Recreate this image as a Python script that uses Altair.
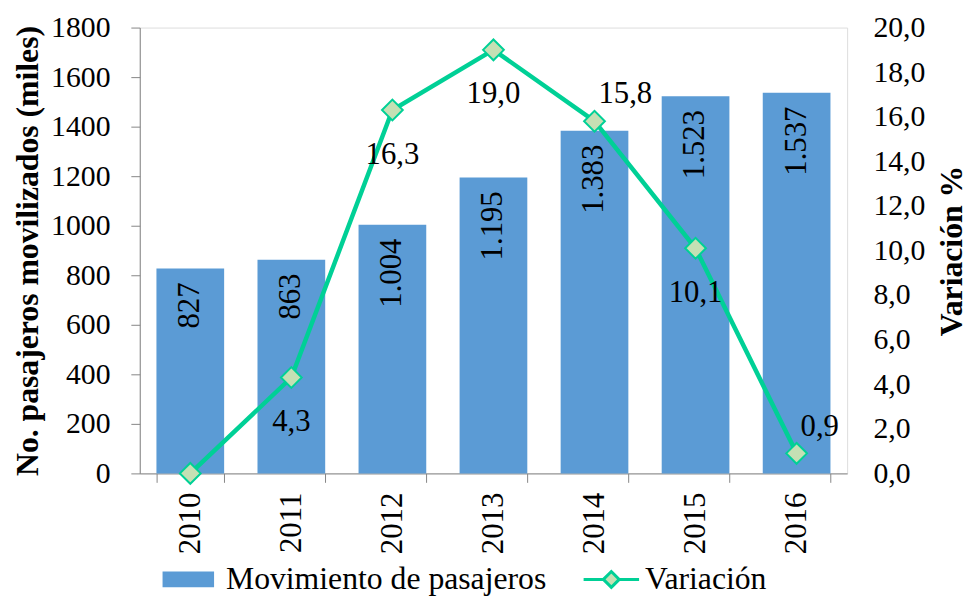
import altair as alt
import pandas as pd

years = ["2010", "2011", "2012", "2013", "2014", "2015", "2016"]
pasajeros = [827, 863, 1004, 1195, 1383, 1523, 1537]
variacion = [0.0, 4.3, 16.3, 19.0, 15.8, 10.1, 0.9]
left_ticks = [0, 200, 400, 600, 800, 1000, 1200, 1400, 1600, 1800]
right_ticks = [0, 2, 4, 6, 8, 10, 12, 14, 16, 18, 20]
labels_below = ["2011", "2012", "2013", "2015"]
labels_above = ["2014", "2016"]
serie_bar = "Movimiento de pasajeros"
serie_line = "Variación"

df = pd.DataFrame({
    "anio": years,
    "pasajeros": pasajeros,
    "variacion": variacion,
    "serie_bar": [serie_bar] * len(years),
    "serie_line": [serie_line] * len(years),
})

FONT = "'Liberation Serif', 'Times New Roman', 'DejaVu Serif', serif"
BLUE = "#5B9BD5"
GREEN = "#00D096"
LIGHT = "#C5E0B4"
AXIS_GREY = "#868686"

RECT_PATH = "M-2.6,-0.8L2.6,-0.8L2.6,0.8L-2.6,0.8Z"
LINE_DIAMOND_PATH = "M-2.8,0L-0.8,0M0.8,0L2.8,0M-0.8,0L0,-0.8L0.8,0L0,0.8Z"

x_enc = alt.X(
    "anio:N",
    title=None,
    sort=years,
    scale=alt.Scale(paddingInner=0.33, paddingOuter=0.165),
    axis=alt.Axis(
        labelAngle=270,
        tickBand="extent",
        labelFont=FONT,
        labelFontSize=31,
        labelColor="black",
        labelPadding=10,
        tickSize=9,
        tickColor=AXIS_GREY,
        domainColor=AXIS_GREY,
        grid=False,
    ),
)

y_left = alt.Y(
    "pasajeros:Q",
    scale=alt.Scale(domain=[0, 1800], nice=False),
    axis=alt.Axis(
        values=left_ticks,
        format="d",
        title="No. pasajeros movilizados (miles)",
        titleFont=FONT,
        titleFontSize=32,
        titleFontWeight="bold",
        titleColor="black",
        titlePadding=6,
        labelFont=FONT,
        labelFontSize=30,
        labelColor="black",
        labelPadding=21,
        tickSize=9,
        tickColor=AXIS_GREY,
        domainColor=AXIS_GREY,
        grid=False,
    ),
)

y_right = alt.Y(
    "variacion:Q",
    scale=alt.Scale(domain=[0, 20], nice=False),
    axis=alt.Axis(
        orient="right",
        values=right_ticks,
        labelExpr="replace(format(datum.value, '.1f'), '.', ',')",
        title="Variación %",
        titleAngle=270,
        titleBaseline="top",
        titleFont=FONT,
        titleFontSize=32,
        titleFontWeight="bold",
        titleColor="black",
        titlePadding=12,
        labelFont=FONT,
        labelFontSize=30,
        labelColor="black",
        labelPadding=26,
        ticks=False,
        domain=False,
        grid=False,
    ),
)

base = alt.Chart(df)

bars = base.mark_bar().encode(
    x=x_enc,
    y=y_left,
    color=alt.Color(
        "serie_bar:N",
        scale=alt.Scale(domain=[serie_bar], range=[BLUE]),
        legend=alt.Legend(
            title=None,
            orient="none",
            legendX=33,
            legendY=541,
            padding=0,
            symbolType=RECT_PATH,
            symbolSize=400,
            symbolStrokeWidth=0,
            labelOffset=22,
            labelLimit=0,
            labelFont=FONT,
            labelFontSize=32,
            labelColor="black",
        ),
    ),
)

bar_text = base.transform_calculate(
    lbl="replace(format(datum.pasajeros, ','), ',', '.')"
).mark_text(
    angle=270, align="right", baseline="middle", dx=-14,
    font=FONT, fontSize=31, color="black",
).encode(x=x_enc, y=alt.Y("pasajeros:Q"), text="lbl:N")

bar_layer = alt.layer(bars, bar_text)

line = base.mark_line(strokeWidth=4.5).encode(
    x=x_enc,
    y=y_right,
    color=alt.Color(
        "serie_line:N",
        scale=alt.Scale(domain=[serie_line], range=[GREEN]),
        legend=alt.Legend(
            title=None,
            orient="none",
            legendX=460,
            legendY=541,
            padding=0,
            symbolType=LINE_DIAMOND_PATH,
            symbolSize=400,
            symbolFillColor=LIGHT,
            symbolStrokeWidth=3,
            labelOffset=18,
            labelLimit=0,
            labelFont=FONT,
            labelFontSize=32,
            labelColor="black",
        ),
    ),
)

pts = base.mark_point(
    shape="diamond", filled=True, fill=LIGHT, stroke=GREEN,
    strokeWidth=2, size=440, opacity=1,
).encode(x=x_enc, y=alt.Y("variacion:Q"))

line_lbl = base.transform_calculate(
    lbl="replace(format(datum.variacion, '.1f'), '.', ',')"
)

text_below = line_lbl.transform_filter(
    alt.FieldOneOfPredicate(field="anio", oneOf=labels_below)
).mark_text(
    align="center", baseline="middle", dy=45,
    font=FONT, fontSize=31, color="black",
).encode(x=x_enc, y=alt.Y("variacion:Q"), text="lbl:N")

text_above = line_lbl.transform_filter(
    alt.FieldOneOfPredicate(field="anio", oneOf=labels_above)
).mark_text(
    align="left", baseline="middle", dx=4, dy=-27,
    font=FONT, fontSize=31, color="black",
).encode(x=x_enc, y=alt.Y("variacion:Q"), text="lbl:N")

line_layer = alt.layer(line, pts, text_below, text_above)

chart = alt.layer(bar_layer, line_layer).resolve_scale(
    y="independent", color="independent"
).properties(
    width=714,
    height=450,
    padding={"left": 4, "top": 2, "right": 0, "bottom": 0},
).configure_view(stroke=None).configure(background="white", font=FONT)

chart.save("out.html", embed_options={"renderer": "svg", "actions": False})
